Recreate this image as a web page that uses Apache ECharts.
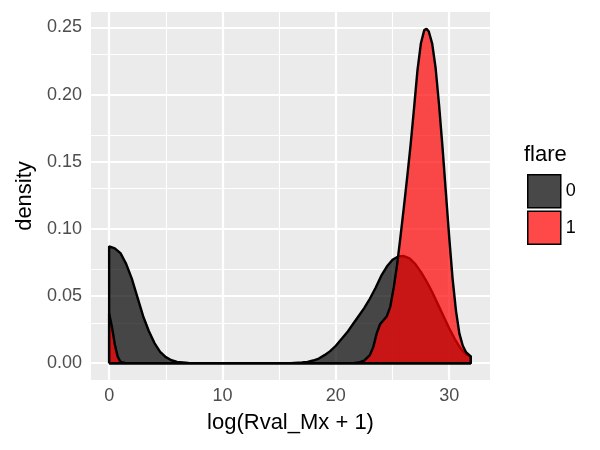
<!DOCTYPE html>
<html>
<head>
<meta charset="utf-8">
<title>density</title>
<script src="https://cdn.jsdelivr.net/npm/echarts@6/dist/echarts.min.js"></script>
<style>
body{margin:0;padding:0;background:#fff;}
#chart{width:600px;height:450px;}
</style>
</head>
<body>
<div id="chart"></div>
<script>
// flare = 0
var xs0 = [0, 0, 0.5, 1, 1.5, 2, 2.5, 3, 3.5, 4, 4.5, 5, 5.5, 6, 7, 8, 16, 17, 17.5, 18, 18.5, 19, 19.5, 20, 20.5, 21, 21.5, 22, 22.5, 23, 23.5, 24, 24.5, 25, 25.5, 26, 26.5, 27, 27.5, 28, 28.5, 29, 29.5, 30, 30.5, 31, 31.5, 31.9, 31.9, 0];
var dens0 = [0, 0.087, 0.0855, 0.082, 0.074, 0.063, 0.049, 0.035, 0.024, 0.015, 0.0085, 0.0045, 0.0022, 0.001, 0.0002, 0, 0, 0.0005, 0.001, 0.002, 0.0035, 0.006, 0.009, 0.013, 0.018, 0.023, 0.029, 0.035, 0.041, 0.048, 0.056, 0.065, 0.072, 0.077, 0.0795, 0.0798, 0.078, 0.074, 0.068, 0.061, 0.053, 0.044, 0.035, 0.026, 0.018, 0.011, 0.0065, 0.005, 0, 0];
// flare = 1
var xs1 = [0, 0, 0.25, 0.5, 0.75, 1, 1.5, 21.5, 22, 22.5, 23, 23.3, 23.6, 23.9, 24.2, 24.5, 24.8, 25.1, 25.4, 25.7, 26, 26.3, 26.6, 26.9, 27.2, 27.5, 27.8, 28, 28.2, 28.5, 28.8, 29.1, 29.4, 29.7, 30, 30.3, 30.6, 30.9, 31.2, 31.5, 31.9, 31.9, 0];
var dens1 = [0, 0.037, 0.027, 0.014, 0.005, 0.001, 0, 0, 0.0005, 0.002, 0.006, 0.012, 0.022, 0.029, 0.032, 0.035, 0.042, 0.056, 0.073, 0.094, 0.116, 0.139, 0.163, 0.19, 0.218, 0.238, 0.248, 0.249, 0.247, 0.238, 0.22, 0.193, 0.162, 0.128, 0.094, 0.063, 0.039, 0.022, 0.013, 0.008, 0.005, 0, 0];

var xBreaks = [0, 10, 20, 30];
var xMinor = [5, 15, 25];
var yBreaks = [0, 0.05, 0.1, 0.15, 0.2, 0.25];
var yMinor = [0.025, 0.075, 0.125, 0.175, 0.225];
var groups = ['0', '1'];

function pairs(xs, ys){
	var out = [];
	for(var i=0;i<xs.length;i++){
		out.push([xs[i], ys[i]]);
	}
	return out;
}

function gridLines(){
	var d = [];
	for(var i=0;i<xMinor.length;i++) d.push({xAxis:xMinor[i], lineStyle:{width:1.1}});
	for(var i=0;i<yMinor.length;i++) d.push({yAxis:yMinor[i], lineStyle:{width:1.1}});
	for(var i=0;i<xBreaks.length;i++) d.push({xAxis:xBreaks[i], lineStyle:{width:2.2}});
	for(var i=0;i<yBreaks.length;i++) d.push({yAxis:yBreaks[i], lineStyle:{width:2.2}});
	return d;
}

function loadChart(){
	var myChart = echarts.init(document.getElementById('chart'));
	var option = {
		animation: false,
		textStyle: {fontFamily: 'Liberation Sans, Arial, Helvetica, sans-serif'},
		title: {
			text: 'flare',
			left: 524,
			top: 144,
			padding: 0,
			textStyle: {fontSize: 22, fontWeight: 'normal', color: '#000'}
		},
		legend: {
			orient: 'vertical',
			left: 527,
			top: 174,
			padding: 0,
			itemWidth: 33,
			itemHeight: 33,
			itemGap: 2,
			icon: 'rect',
			textStyle: {fontSize: 18, color: '#000'},
			data: [
				{name: groups[0], itemStyle: {color: '#484848', borderColor: '#000', borderWidth: 1.5}},
				{name: groups[1], itemStyle: {color: '#FF4848', borderColor: '#000', borderWidth: 1.5}}
			]
		},
		grid: {
			left: 91,
			right: 110,
			top: 12,
			bottom: 70,
			show: true,
			backgroundColor: '#EBEBEB',
			borderWidth: 0
		},
		xAxis: {
			type: 'value',
			min: -1.6,
			max: 33.6,
			name: 'log(Rval_Mx + 1)',
			nameLocation: 'middle',
			nameGap: 32,
			nameTextStyle: {fontSize: 22, color: '#000'},
			axisLine: {show: false},
			axisTick: {show: true, length: 5, customValues: xBreaks, lineStyle: {color: '#333', width: 2}},
			axisLabel: {customValues: xBreaks, fontSize: 18, color: '#4D4D4D', margin: 7},
			splitLine: {show: false}
		},
		yAxis: {
			type: 'value',
			min: -0.0125,
			max: 0.2615,
			name: 'density',
			nameLocation: 'middle',
			nameGap: 55,
			nameTextStyle: {fontSize: 22, color: '#000'},
			axisLine: {show: false},
			axisTick: {show: true, length: 5, customValues: yBreaks, lineStyle: {color: '#333', width: 2}},
			axisLabel: {customValues: yBreaks, fontSize: 18, color: '#4D4D4D', margin: 9,
				formatter: function(v){ return v.toFixed(2); }},
			splitLine: {show: false}
		},
		series: [
			{
				name: 'grid',
				type: 'line',
				data: [],
				z: 1,
				markLine: {
					silent: true,
					z: 1,
					symbol: ['none', 'none'],
					label: {show: false},
					lineStyle: {color: '#fff', type: 'solid'},
					data: gridLines()
				}
			},
			{
				name: groups[0],
				type: 'line',
				z: 2,
				showSymbol: false,
				symbol: 'none',
				data: pairs(xs0, dens0),
				lineStyle: {color: '#000', width: 2.4},
				itemStyle: {color: '#484848'},
				areaStyle: {color: '#000', opacity: 0.7, origin: 0}
			},
			{
				name: groups[1],
				type: 'line',
				z: 3,
				showSymbol: false,
				symbol: 'none',
				data: pairs(xs1, dens1),
				lineStyle: {color: '#000', width: 2.4},
				itemStyle: {color: '#FF4848'},
				areaStyle: {color: '#FF0000', opacity: 0.7, origin: 0}
			}
		]
	};
	myChart.setOption(option);
}
loadChart();
</script>
</body>
</html>
